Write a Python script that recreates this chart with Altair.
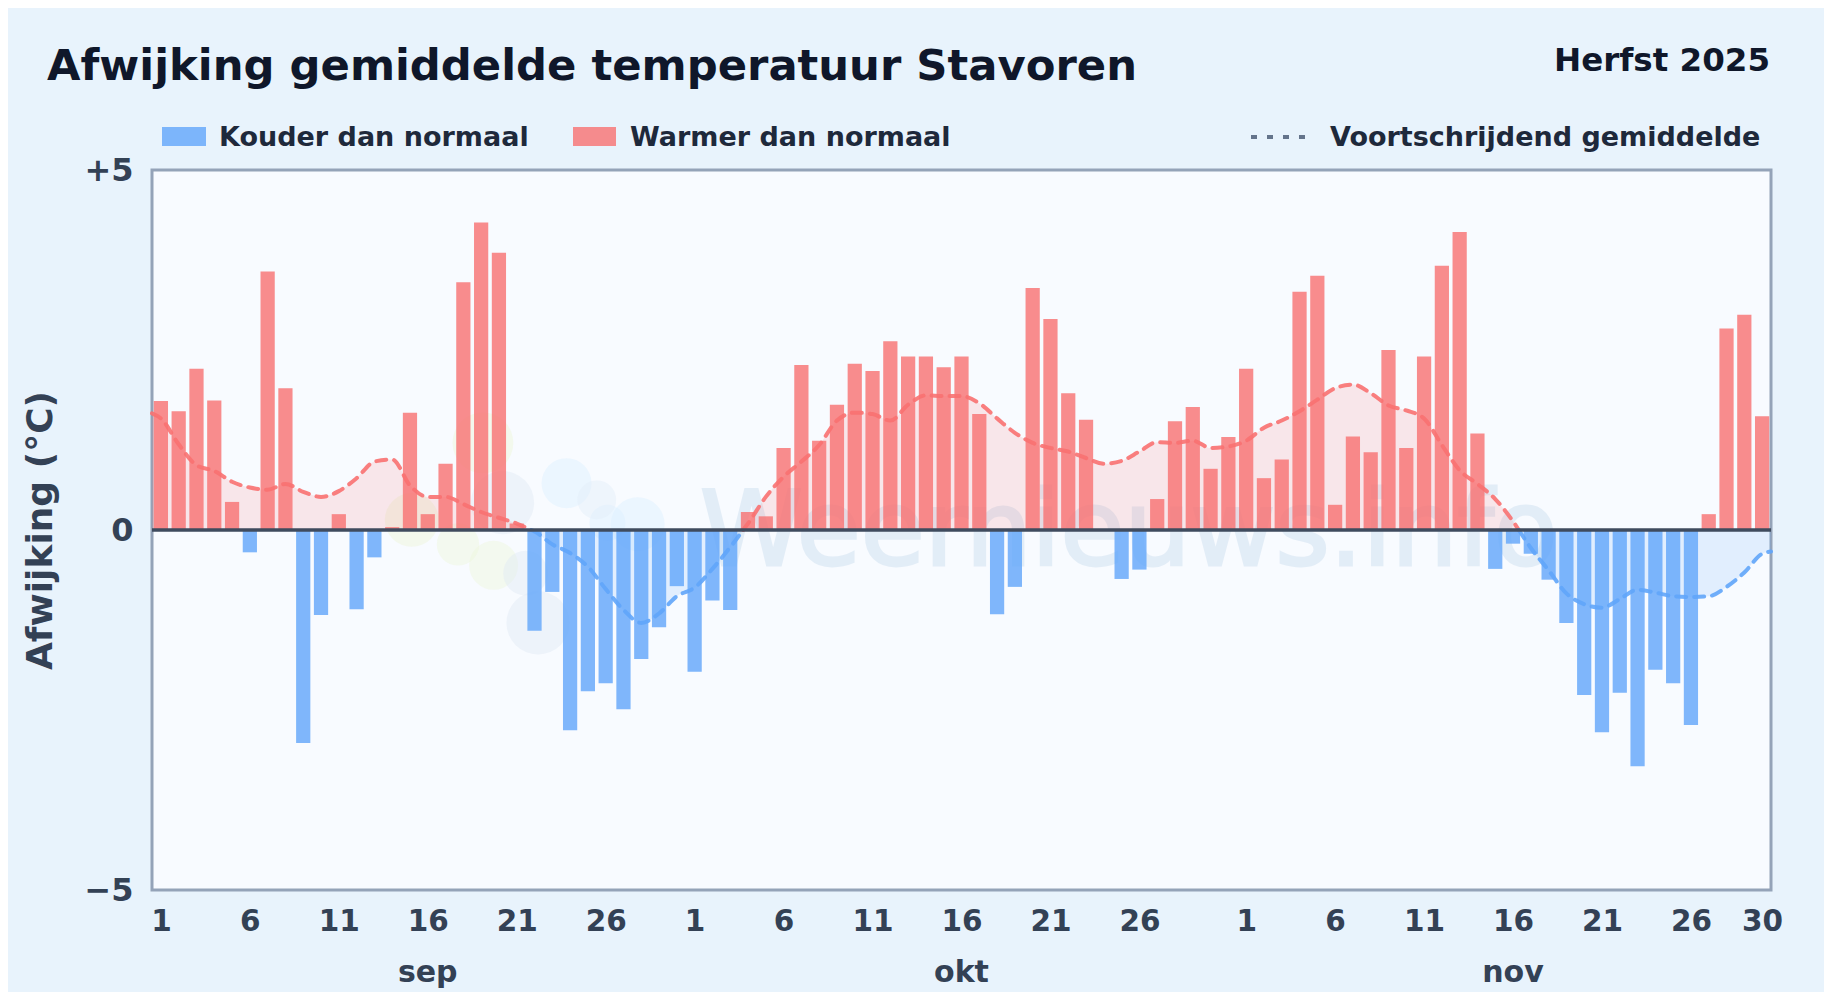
import altair as alt
import pandas as pd

# Daily deviation from normal (deg C), 1 Sep - 30 Nov 2025
sep_dev = [1.79, 1.65, 2.24, 1.80, 0.39, -0.31, 3.59, 1.97, -2.96, -1.18,
           0.22, -1.10, -0.38, 0.04, 1.63, 0.22, 0.92, 3.44, 4.27, 3.85,
           0.09, -1.40, -0.86, -2.78, -2.24, -2.13, -2.49, -1.79, -1.35, -0.78]
okt_dev = [-1.97, -0.98, -1.11, 0.25, 0.19, 1.14, 2.29, 1.24, 1.74, 2.31,
           2.21, 2.62, 2.41, 2.41, 2.26, 2.41, 1.61, -1.17, -0.79, 3.36,
           2.93, 1.90, 1.53, 0.0, -0.68, -0.55, 0.43, 1.51, 1.71, 0.85, 1.29]
nov_dev = [2.24, 0.72, 0.98, 3.31, 3.53, 0.35, 1.30, 1.08, 2.50, 1.14,
           2.41, 3.67, 4.14, 1.34, -0.54, -0.19, -0.33, -0.69, -1.29, -2.29,
           -2.81, -2.26, -3.28, -1.94, -2.13, -2.71, 0.22, 2.80, 2.99, 1.58]
# Moving average read at each day, with the values at the two plot edges
moving_avg = [1.55, 1.19, 0.90, 0.82, 0.67, 0.59, 0.56, 0.64, 0.53, 0.46,
              0.54, 0.72, 0.95, 0.98, 0.62, 0.46, 0.46, 0.36, 0.25, 0.17,
              0.09, -0.02, -0.20, -0.32, -0.51, -0.82, -1.11, -1.29, -1.16, -0.92,
              -0.80, -0.54, -0.24, 0.09, 0.46, 0.74, 0.95, 1.18, 1.52, 1.63,
              1.61, 1.52, 1.74, 1.87, 1.86, 1.86, 1.76, 1.55, 1.35, 1.21,
              1.14, 1.09, 1.00, 0.92, 0.96, 1.09, 1.22, 1.21, 1.24, 1.14, 1.16,
              1.24, 1.42, 1.52, 1.65, 1.81, 1.97, 2.02, 1.90, 1.73, 1.66,
              1.55, 1.18, 0.83, 0.64, 0.43, 0.12, -0.25, -0.56, -0.88, -1.03,
              -1.08, -0.96, -0.83, -0.87, -0.92, -0.93, -0.92, -0.79, -0.59, -0.33]
ma_start, ma_end = 1.62, -0.30
months = ["sep", "okt", "nov"]
month_mid_index = [15, 45, 76]
tick_index = [0, 5, 10, 15, 20, 25, 30, 35, 40, 45, 50, 55,
              61, 66, 71, 76, 81, 86, 90]

# Faint logo behind the data (days, deg C, area, colour)
blob_x = [18.6, 14.6, 19.2, 19.7, 21.7, 23.3, 25.6, 27.3, 25.0, 17.2, 21.0]
blob_y = [1.21, 0.14, -0.49, 0.38, -1.29, 0.65, 0.10, 0.08, 0.42, -0.2, -0.6]
blob_s = [3700, 2900, 2400, 4000, 4000, 2500, 1300, 2900, 1500, 1800, 2000]
blob_c = ["#eef7d8", "#eef3d8", "#eef7dc", "#dfe9f4", "#dfe9f4",
          "#dcefff", "#dcefff", "#dcefff", "#e3eef9", "#eef7dc", "#dfe9f4"]

FONT = "DejaVu Sans"
RED, BLUE = "#f87171", "#60a5fa"
W, H = 1619, 720
PL, PT = 152, 170     # plot corner on the picture
M = 8                 # page margin

dev = sep_dev + okt_dev + nov_dev
assert len(dev) == 91 and len(moving_avg) == 91

bars = pd.DataFrame({
    "x0": [i + 0.1 for i in range(91)],
    "x1": [i + 0.9 for i in range(91)],
    "v": dev,
    "base": [0.0] * 91,
    "c": [RED if v >= 0 else BLUE for v in dev],
})
bars = bars[bars.v != 0]

# Split the average at zero so each part gets its own colour
pts = [(0.0, ma_start)] + [(i + 0.5, v) for i, v in enumerate(moving_avg)] + [(91.0, ma_end)]
rows, seg = [], 0
for k, (x, v) in enumerate(pts):
    if k and (pts[k - 1][1] >= 0) != (v >= 0):
        xp, vp = pts[k - 1]
        xc = xp + (x - xp) * vp / (vp - v)
        rows.append((xc, 0.0, seg, RED if vp >= 0 else BLUE))
        seg += 1
        rows.append((xc, 0.0, seg, RED if v >= 0 else BLUE))
    rows.append((x, v, seg, RED if v >= 0 else BLUE))
ma = pd.DataFrame(rows, columns=["x", "v", "seg", "c"])
ma["base"] = 0.0

xs = alt.Scale(domain=[0, 91], nice=False, zero=False)
ys = alt.Scale(domain=[-5, 5], nice=False)

label_expr = ("floor(datum.value) < 30 ? floor(datum.value) + 1 : "
              "floor(datum.value) < 61 ? floor(datum.value) - 29 : floor(datum.value) - 60")
x_axis = alt.Axis(values=[i + 0.5 for i in tick_index], labelExpr=label_expr, title=None,
                  ticks=False, domain=False, grid=False, labelFont=FONT, labelFontSize=29.5,
                  labelFontWeight="bold", labelColor="#334155", labelPadding=31,
                  labelBaseline="middle", labelAngle=0, labelOverlap=False)
y_axis = alt.Axis(values=[-5, 0, 5], labelExpr="datum.value > 0 ? '+5' : datum.value < 0 ? '\u22125' : '0'",
                  title="Afwijking (\u00b0C)", titleFont=FONT, titleFontSize=36, titleFontWeight="bold",
                  titleColor="#334155", titlePadding=24, ticks=False, domain=False, grid=False,
                  labelFont=FONT, labelFontSize=32, labelFontWeight="bold", labelColor="#334155",
                  labelPadding=19)

blobs = alt.Chart(pd.DataFrame({"x": blob_x, "y": blob_y, "s": blob_s, "c": blob_c})).mark_point(
    filled=True, shape="circle", opacity=0.45, stroke=None).encode(
    x=alt.X("x:Q", scale=xs, axis=x_axis),
    y=alt.Y("y:Q", scale=ys, axis=y_axis),
    size=alt.Size("s:Q", scale=None),
    color=alt.Color("c:N", scale=None),
)
watermark = alt.Chart(pd.DataFrame({"t": ["Weernieuws.info"]})).mark_text(
    font=FONT, fontSize=104, color="#3079b9", opacity=0.1, align="left", baseline="alphabetic",
    stroke="#3079b9", strokeWidth=3,
).encode(x=alt.value(700 - PL), y=alt.value(565 - PT), text="t:N")

area = alt.Chart(ma).mark_area(interpolate="monotone", opacity=0.15).encode(
    x=alt.X("x:Q", scale=xs), y=alt.Y("v:Q", scale=ys, stack=None), y2="base:Q",
    color=alt.Color("c:N", scale=None), detail="seg:N")
bar = alt.Chart(bars).mark_rect(opacity=0.8).encode(
    x=alt.X("x0:Q", scale=xs), x2="x1:Q", y=alt.Y("v:Q", scale=ys), y2="base:Q",
    color=alt.Color("c:N", scale=None))
line = alt.Chart(ma).mark_line(interpolate="monotone", strokeWidth=4, strokeDash=[10, 8], strokeCap="round",
                               opacity=0.9).encode(
    x=alt.X("x:Q", scale=xs), y=alt.Y("v:Q", scale=ys),
    color=alt.Color("c:N", scale=None), detail="seg:N")
zero = alt.Chart(pd.DataFrame({"y": [0]})).mark_rule(color="#3f4b5e", strokeWidth=3.5).encode(
    y=alt.Y("y:Q", scale=ys))
month_text = alt.Chart(pd.DataFrame({"m": months, "x": [i + 0.5 for i in month_mid_index]})).mark_text(
    font=FONT, fontSize=30, fontWeight="bold", color="#334155", baseline="middle").encode(
    x=alt.X("x:Q", scale=xs), y=alt.value(973 - PT), text="m:N")


def label(text, px, py, size, color, align="left"):
    return alt.Chart(pd.DataFrame({"t": [text]})).mark_text(
        font=FONT, fontSize=size, fontWeight="bold", color=color, align=align, baseline="middle"
    ).encode(x=alt.value(px - PL), y=alt.value(py - PT), text="t:N")


def swatch(x0, x1, color):
    return alt.Chart(pd.DataFrame({"a": [0]})).mark_rect(color=color, opacity=0.8).encode(
        x=alt.value(x0 - PL), x2=alt.value(x1 - PL), y=alt.value(127 - PT), y2=alt.value(146 - PT))


dotted = alt.Chart(pd.DataFrame({"a": [0]})).mark_rule(color="#64748b", strokeWidth=4, strokeDash=[6, 10]).encode(
    x=alt.value(1251 - PL), x2=alt.value(1312 - PL), y=alt.value(137 - PT))

chart = alt.layer(
    blobs, watermark, area, bar, line, zero, month_text,
    label("Afwijking gemiddelde temperatuur Stavoren", 47, 67, 43.3, "#0f172a"),
    label("Herfst 2025", 1770, 61, 32.5, "#0f172a", align="right"),
    swatch(162, 206, BLUE), label("Kouder dan normaal", 219, 138, 27, "#1e293b"),
    swatch(573, 616, RED), label("Warmer dan normaal", 630, 138, 27, "#1e293b"),
    dotted, label("Voortschrijdend gemiddelde", 1330, 138, 27, "#1e293b"),
).properties(
    width=W, height=H, background="#e8f3fc",
    padding={"left": PL - M, "top": PT - M, "right": 1816 - (PL - M) - W, "bottom": 984 - (PT - M) - H},
    autosize=alt.AutoSizeParams(type="none"),
).configure_view(fill="#f8fbff", stroke="#94a3b8", strokeWidth=3)

chart.save("out.html", embed_options={"renderer": "svg", "actions": False})
